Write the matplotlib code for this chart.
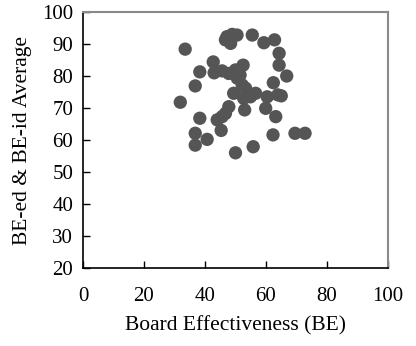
import matplotlib
matplotlib.use("Agg")
import matplotlib.pyplot as plt

# Board effectiveness vs. averaged BE-ed / BE-id scores
be = [33.5, 47.2, 48.9, 50.5, 46.7, 48.4, 55.5, 59.3, 62.8, 64.3,
      64.3, 66.8, 62.4, 42.7, 38.3, 36.8, 31.9, 43.0, 45.6, 47.8,
      50.0, 52.5, 50.6, 52.2, 53.3, 53.8, 54.9, 52.7, 56.6, 49.4,
      60.4, 63.9, 65.0, 63.2, 59.9, 53.0, 47.8, 44.0, 45.6, 46.7,
      38.3, 36.8, 40.7, 45.3, 62.3, 69.5, 72.8, 36.8, 50.0, 55.8,
      51.5]
be_avg = [88.4, 92.3, 93.0, 92.8, 91.3, 90.2, 92.8, 90.4, 91.3, 87.1,
          83.4, 80.0, 77.9, 84.4, 81.3, 76.9, 71.8, 81.0, 81.6, 80.8,
          81.9, 83.4, 79.3, 77.2, 76.2, 74.6, 73.5, 73.0, 74.6, 74.6,
          73.5, 74.1, 73.8, 67.3, 69.9, 69.4, 70.4, 66.3, 67.3, 68.3,
          66.8, 62.1, 60.2, 63.0, 61.6, 62.1, 62.1, 58.4, 56.0, 57.9,
          80.3]

plt.rcParams['font.family'] = ['Liberation Serif', 'DejaVu Serif']

fig = plt.figure(figsize=(4.16, 3.46), dpi=100)
ax = fig.add_axes([0.1995, 0.2254, 0.7332, 0.7399])

ax.scatter(be, be_avg, s=92, color='#555555', edgecolors='none', zorder=3)

ax.set_xlim(0, 100)
ax.set_ylim(20, 100)
ax.set_xticks(range(0, 101, 20))
ax.set_yticks(range(20, 101, 10))

ax.tick_params(direction='in', length=5, width=1, labelsize=15, pad=7,
               top=False, right=False)
ax.tick_params(axis='x', pad=14)

for side in ('left', 'bottom'):
    ax.spines[side].set_color('black')
    ax.spines[side].set_linewidth(1.2)
for side in ('top', 'right'):
    ax.spines[side].set_color('#8a8a8a')
    ax.spines[side].set_linewidth(1.5)

ax.set_xlabel('Board Effectiveness (BE)', fontsize=15.5, labelpad=7)
ax.set_ylabel('BE-ed & BE-id Average', fontsize=15.5, labelpad=7)

fig.savefig('out.png', dpi=100)
